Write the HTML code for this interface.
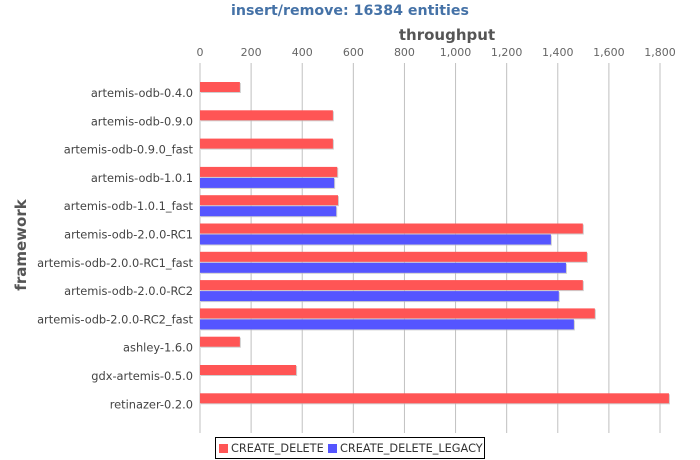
<!DOCTYPE html>
<html><head><meta charset="utf-8"><style>
body{margin:0;background:#fff}
svg{display:block;font-family:"DejaVu Sans","Liberation Sans",sans-serif}
</style></head><body>
<svg id="chart" width="700" height="460">
<text x="350" y="15" text-anchor="middle" font-size="14.2" font-weight="bold" fill="#4572a7">insert/remove: 16384 entities</text>
<text x="447" y="40" text-anchor="middle" font-size="15" font-weight="bold" fill="#555">throughput</text>
<text transform="translate(26,245) rotate(-90)" text-anchor="middle" font-size="15" font-weight="bold" fill="#555">framework</text>
<g id="grid"></g><g id="bars"></g><g id="labels"></g>
<g>
<rect x="215.5" y="437.5" width="269" height="21" fill="#fff" stroke="#000" stroke-width="1"/>
<rect x="219" y="444" width="9" height="9" fill="#ff5555"/>
<text x="231" y="452" font-size="11.3" fill="#333">CREATE_DELETE</text>
<rect x="328" y="444" width="9" height="9" fill="#5555ff"/>
<text x="340" y="452" font-size="11.3" fill="#333">CREATE_DELETE_LEGACY</text>
</g>
</svg>
<script>
const categories=["artemis-odb-0.4.0","artemis-odb-0.9.0","artemis-odb-0.9.0_fast","artemis-odb-1.0.1","artemis-odb-1.0.1_fast","artemis-odb-2.0.0-RC1","artemis-odb-2.0.0-RC1_fast","artemis-odb-2.0.0-RC2","artemis-odb-2.0.0-RC2_fast","ashley-1.6.0","gdx-artemis-0.5.0","retinazer-0.2.0"];
const createDelete=[156,520,520,537,540,1498,1514,1498,1545,156,376,1835];
const createDeleteLegacy=[null,null,null,525,533,1373,1432,1404,1463,null,null,null];
const ticks=[0,200,400,600,800,1000,1200,1400,1600,1800];
const NS="http://www.w3.org/2000/svg";
const x=v=>200+v*(460/1800);
const rowC=i=>93+i*28.3;
function mk(t,a,p){const e=document.createElementNS(NS,t);for(const k in a)e.setAttribute(k,a[k]);p.appendChild(e);return e;}
const g=document.getElementById('grid'),b=document.getElementById('bars'),l=document.getElementById('labels');
ticks.forEach(t=>{
 const ln=mk('line',{x1:x(t),x2:x(t),y1:63,y2:433,stroke:'#c0c0c0','stroke-width':1},g);
 
 
 const tx=mk('text',{x:x(t),y:56,'text-anchor':'middle','font-size':11,fill:'#666'},g);
 tx.textContent=t.toLocaleString('en-US');
 
 
});
categories.forEach((c,i)=>{
 const tx=mk('text',{x:193,y:rowC(i)+4,'text-anchor':'end','font-size':11.4,fill:'#444'},l);
 tx.textContent=c;
 
 
 [[createDelete[i],'#ff5555',-11],[createDeleteLegacy[i],'#5555ff',0]].forEach(([v,col,off])=>{
  if(v==null)return;
  mk('rect',{x:201,y:rowC(i)+off+1,width:x(v)-200,height:10,fill:'#bbb',opacity:0.7},b);
  const r=mk('rect',{x:200,y:rowC(i)+off,width:x(v)-200,height:10,fill:col},b);
  
  
 });
});
</script>
</body></html>
